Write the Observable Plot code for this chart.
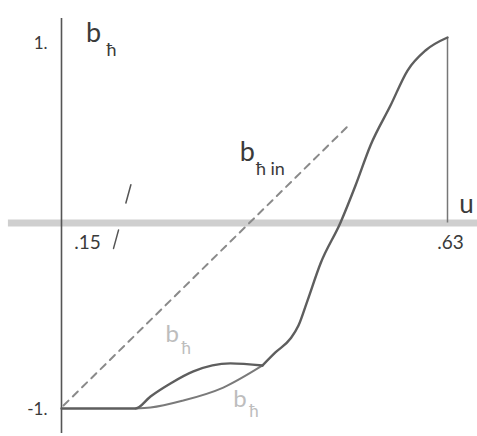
<!DOCTYPE html>
<html>
<head>
<meta charset="utf-8">
<script src="https://cdn.jsdelivr.net/npm/d3@7"></script>
<script src="https://cdn.jsdelivr.net/npm/@observablehq/plot@0.6"></script>
<style>
  body { margin: 0; background: #fff; }
</style>
</head>
<body>
<div id="chart"></div>
<script>
// b_ħ(u): flat start, then the upper branch
const upperU = [0.15, 0.242, 0.2607, 0.2855, 0.314, 0.36, 0.40];
const upperB = [-1, -1, -0.935, -0.865, -0.80, -0.757, -0.768];
// lower branch between the same end points
const lowerU = [0.242, 0.2607, 0.3015, 0.3512, 0.40];
const lowerB = [-1, -0.995, -0.957, -0.887, -0.768];
// common rise up to b = 1 at u = .63
const riseU = [0.40, 0.416, 0.4348, 0.4447, 0.4559, 0.4721, 0.497, 0.5156, 0.5342, 0.5591, 0.5803, 0.6026, 0.63];
const riseB = [-0.768, -0.698, -0.623, -0.553, -0.418, -0.218, 0.003, 0.202, 0.418, 0.633, 0.822, 0.93, 1.0];
// linear approximation b_ħin
const linU = [0.1525, 0.5094];
const linB = [-0.984, 0.536];
// steep dashed segment near u = .15
const steepU = [0.2147, 0.237];
const steepB = [-0.137, 0.218];
// axis labels
const xTicks = [0.15, 0.63];
const xTickLabels = [".15", ".63"];
const yTicks = [1, -1];
const yTickLabels = ["1.", "-1."];

const pts = (us, bs) => us.map((u, i) => ({u, b: bs[i]}));
const xTickRows = xTicks.map((u, i) => ({u, b: 0, label: xTickLabels[i]}));
const yTickRows = yTicks.map((b, i) => ({u: 0.15, b, label: yTickLabels[i]}));

const font = "Lato, 'Open Sans', sans-serif";
const ink = "#3a3a3a";
const faint = "#bdbdbd";
const curve = "#5e5e5e";

const chart = Plot.plot({
  width: 477,
  height: 436,
  marginLeft: 61,
  marginRight: 30,
  marginTop: 37,
  marginBottom: 28,
  x: {domain: [0.15, 0.63], axis: null},
  y: {domain: [-1, 1], axis: null},
  style: {background: "#fff", fontFamily: font},
  marks: [
    // horizontal axis: broad light band
    Plot.ruleY([0], {x1: 0.084, x2: 0.67, stroke: "#cfcfcf", strokeWidth: 7}),
    // vertical axis
    Plot.ruleX([0.15], {y1: -1.135, y2: 1.102, stroke: "#555", strokeWidth: 1.6}),
    // drop line at u = .63
    Plot.ruleX([0.63], {y1: 0, y2: 1, stroke: "#777", strokeWidth: 1.5}),
    // dashed lines
    Plot.line(pts(linU, linB), {x: "u", y: "b", stroke: "#8a8a8a", strokeWidth: 2, strokeDasharray: "7,6"}),
    Plot.line(pts(steepU, steepB), {x: "u", y: "b", stroke: "#555", strokeWidth: 1.5, strokeDasharray: "19,28"}),
    // b_ħ curves
    Plot.line(pts(lowerU, lowerB), {x: "u", y: "b", stroke: "#7a7a7a", strokeWidth: 2, curve: "monotone-x"}),
    Plot.line(pts(upperU, upperB), {x: "u", y: "b", stroke: curve, strokeWidth: 2.4, curve: "monotone-x"}),
    Plot.line(pts(riseU, riseB), {x: "u", y: "b", stroke: curve, strokeWidth: 2.4, curve: "monotone-x"}),
    // tick labels
    Plot.text(xTickRows.slice(0, 1), {x: "u", y: "b", text: "label", dx: 26, dy: 20, fontSize: 19, fill: ink}),
    Plot.text(xTickRows.slice(1), {x: "u", y: "b", text: "label", dx: 3, dy: 20, fontSize: 19, fill: ink}),
    Plot.text(yTickRows.slice(0, 1), {x: "u", y: "b", text: "label", dx: -14, dy: 6, textAnchor: "end", fontSize: 17, fill: ink}),
    Plot.text(yTickRows.slice(1), {x: "u", y: "b", text: "label", dx: -14, dy: 1, textAnchor: "end", fontSize: 17, fill: ink}),
    // axis names
    Plot.text(["u"], {x: 0.63, y: 0, dx: 19, dy: -18, fontSize: 26, fill: ink}),
    Plot.text(["b"], {x: 0.15, y: 1, dx: 32, dy: -4, fontSize: 27, fill: ink}),
    Plot.text(["ħ"], {x: 0.15, y: 1, dx: 50, dy: 13, fontSize: 18, fill: ink}),
    // curve labels
    Plot.text(["b"], {x: 0.3986, y: 0.4, dx: -14, dy: 4, fontSize: 27, fill: ink}),
    Plot.text(["ħ in"], {x: 0.3986, y: 0.4, dx: 9, dy: 20, fontSize: 18, fill: ink}),
    Plot.text(["b"], {x: 0.3, y: -0.6, dx: -10, dy: 0, fontSize: 24, fill: faint}),
    Plot.text(["ħ"], {x: 0.3, y: -0.6, dx: 4, dy: 14, fontSize: 17, fill: faint}),
    Plot.text(["b"], {x: 0.3845, y: -0.95, dx: -10, dy: 0, fontSize: 24, fill: faint}),
    Plot.text(["ħ"], {x: 0.3845, y: -0.95, dx: 4, dy: 12, fontSize: 17, fill: faint})
  ]
});
document.getElementById("chart").append(chart);
</script>
</body>
</html>
